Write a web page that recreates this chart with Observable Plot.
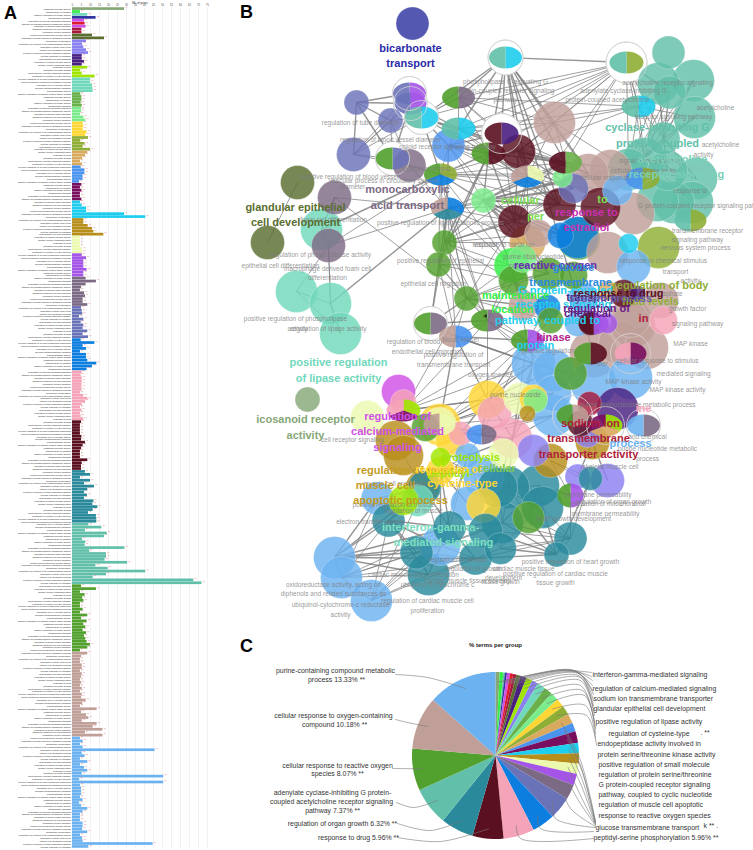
<!DOCTYPE html>
<html><head><meta charset="utf-8">
<script src="https://cdn.jsdelivr.net/npm/d3@7"></script>
<script src="https://cdn.jsdelivr.net/npm/@observablehq/plot@0.6"></script>
<style>html,body{margin:0;padding:0;background:#fff}#page{position:relative;width:753px;height:850px;overflow:hidden;font-family:"Liberation Sans",Arial,sans-serif}
.ltr{position:absolute;font-weight:bold;font-size:18px;line-height:18px;color:#000}</style>
</head><body><div id="page"><div class="ltr" style="left:4px;top:4px">A</div><div class="ltr" style="left:240px;top:3px">B</div><div class="ltr" style="left:240px;top:637px">C</div></div>
<script>
const col={ico:"#86a877",brg:"#33ee44",lt:"#70d8bb",navy:"#2f33a0",mag:"#d050e8",red:"#e01c2c",crim:"#a8183c",dol:"#5a6e30",per:"#8a80f0",dpur:"#4a2080",lime:"#a0e600",grn2:"#6ab04a",lgrn:"#7aeb8a",yel:"#ffd633",oli:"#8fae35",tan:"#d9a95e",blu:"#4a94f0",dmag:"#7a0e5e",cya:"#1fcdee",gold:"#b88e1a",pale:"#ecfab0",pur:"#a455e8",mau:"#7c6a85",sla:"#6a72b8",bblue:"#0c7ee0",pink:"#f5a3b8",mar:"#5a1020",dte:"#2a8a9c",tea:"#62c0aa",grn:"#52a02e",tau:"#c09f98",lbl:"#6db2f0",rose:"#cc2fb0"};

/* ---------- Panel A: percent of genes per term, by group ---------- */
const aIco=[28.9],aBrg=[4.4],aLt1=[8.5],aNavy=[13.1],aMag=[6.7],aRed=[7],aMag2=[7.6],aCrim=[5.2,5.2],aDol=[11.1,17.8];
const aPer=[7.8,5.6,6.3,7.8,8.9],aDpur=[5.4,5.4,6.7,5.4],aLime=[8.5,4.6,5.4,12.6],aLt=[10,10,11.1,11.3,11.5];
const aGrn2=[4.6,5.2,5.2,4.8,5.4],aLgrn=[5,5,4.4,6.3,7.4],aYel=[5.9,6.3,5.9,8.1,7.4],aOli=[8.9,4.6,7,5.9,10];
const aTan=[8.5,7.2,5.6,4.4,5.6],aBlu=[4.8,6.9,6.9,5.9,5.9,3.9],aDmag=[5.2,4.4,5.2,4.4,4.4,5.2],aCya=[4.4,5.4,7.8,7.8,28.9,40.7];
const aGold=[6.3,6.3,8.7,11.1,11.9,17.4],aPale=[4.4,4.4,4.4,4.4,5.6,5.6],aPur=[5.4,7.8,6.3,6.3,6.3,8.1,6.3,6.3];
const aMau=[7.6,13.3,7.6,5,4.4,6.7,7.2,5.9,5.9,8.5],aSla=[5,5.4,5.7,3.9,6.3,4.8,6.3,5.9,8.5,5.9,8.9];
const aBblue=[4.8,12.4,5.9,7.8,4.4,7.8,7.8,8.5,13.5,11.1,8.1];
const aPink=[5.4,4.8,5.4,5.4,5.2,5.2,5.2,4.4,6.3,8.5,7.2,5.4,4.4,5.2,4.4,4.8,6.3];
const aMar=[5,4.4,4.4,4.4,4.4,5.2,5,7.2,5.9,5,4.4,4.4,4.4,8.5,5.4,5,5];
const aDte=[7.2,10,4.4,10,6.7,12.2,8.5,6.7,8.3,6.7,11.9,11.3,14.1,11.5,8.9,13.3,13.5,13.5];
const aTea=[9.1,16.3,7.2,19.3,17.8,5.6,7.4,7,29.1,9.6,18.9,18.9,18.1,30.6,13,19.8,40.7,18.9,11.5,67.4,71.9];
const aGrn=[5,13.3,4.4,7,5.7,6.3,4.4,4.4,5.9,4.4,8.5,5,8.1,6.3,7.4,5.9,7.8,6.7,7.4,8.1,10,8.5,4.4];
const aTau=[8.5,5,4.4,4.4,5.4,5.4,4.4,5.4,5,4.4,5,4.4,5.4,4.4,5.4,5,7.6,5.7,4.4,13.7,5,7.8,9.1,5.4,13.7,11.5,16.9,7.2,16.9];
const aLbl=[4.4,5.9,4.4,5.9,45.9,5.4,7,4.4,8.5,4.4,6.7,8.5,5.4,50.7,4,50.7,4.4,5,5,5,4.4,5.9,4,5,8.5,5.9,4.4,4.4,4.4,5.9,5.9,5.6,8.5,4.4,5.6,5.9,44.8,9.1];
const aOrder=[[aIco,"ico"],[aBrg,"brg"],[aLt1,"lt"],[aNavy,"navy"],[aMag,"mag"],[aRed,"red"],[aMag2,"mag"],[aCrim,"crim"],[aDol,"dol"],[aPer,"per"],[aDpur,"dpur"],[aLime,"lime"],[aLt,"lt"],[aGrn2,"grn2"],[aLgrn,"lgrn"],[aYel,"yel"],[aOli,"oli"],[aTan,"tan"],[aBlu,"blu"],[aDmag,"dmag"],[aCya,"cya"],[aGold,"gold"],[aPale,"pale"],[aPur,"pur"],[aMau,"mau"],[aSla,"sla"],[aBblue,"bblue"],[aPink,"pink"],[aMar,"mar"],[aDte,"dte"],[aTea,"tea"],[aGrn,"grn"],[aTau,"tau"],[aLbl,"lbl"]];
const aTerms=["icosanoid receptor activity","maintenance of location","positive regulation of lipase activity","bicarbonate transport","regulation of calcium-mediated signaling","sodium ion transmembrane transporter activity","regulation of blood vessel diameter","glandular epithelial cell development","regulation of tube diameter","protein serine/threonine kinase activity","regulation of small molecule metabolic process","membrane permeability","regulation of cysteine-type endopeptidase activity","regulation of body fluid levels","muscle cell apoptotic process","G protein-coupled receptor signaling pathway","cellular response to estradiol","monocarboxylic acid transport","regulation of protein kinase activity","peptidyl-serine phosphorylation","response to drug","regulation of organ growth","acetylcholine receptor signaling pathway","response to reactive oxygen species","cellular response to oxygen-containing compound","purine-containing compound metabolic process","regulation of MAP kinase activity","glucose transmembrane transport","oxidoreductase activity","positive regulation of cardiac muscle tissue growth"];
const aXTicks=d3.range(0,76,5);

const aRows=[];aOrder.forEach(([vals,k])=>vals.forEach(v=>aRows.push({i:aRows.length,v,c:col[k],t:aTerms[aRows.length%aTerms.length]})));

const plotA=Plot.plot({width:215,height:850,marginLeft:72,marginRight:8,marginTop:7,marginBottom:2,
 style:{position:"absolute",left:"0",top:"0",background:"transparent",overflow:"visible"},
 x:{domain:[0,75],axis:null},y:{domain:aRows.map(d=>d.i),axis:null,padding:0.08},color:{type:"identity"},
 marks:[
  Plot.ruleX(aXTicks,{stroke:"#e4e4e4",strokeWidth:0.5}),
  Plot.barX(aRows,{x:"v",y:"i",fill:"c"}),
  Plot.text(aRows,{x:"v",y:"i",text:()=>"**",dx:0.8,textAnchor:"start",fontSize:2.6,fill:"#e06a78",fontFamily:"Liberation Sans"}),
  Plot.text(aRows,{x:0,y:"i",text:"t",dx:-1.5,textAnchor:"end",fontSize:2.4,fill:"#222",fontFamily:"Liberation Sans"}),
  Plot.text(aXTicks,{x:d=>d,text:d=>String(d),frameAnchor:"top",dy:-3,fontSize:2.6,fill:"#444",fontFamily:"Liberation Sans"}),
  Plot.text(["Nb. of genes"],{x:[37.5],frameAnchor:"top",dy:-6,fontSize:2.8,fill:"#333",fontFamily:"Liberation Sans"})
 ]});
document.getElementById("page").appendChild(plotA);

/* ---------- Panel B: network, layout positions and node sizes ---------- */
const circleNodes=[
["bi",412,23,16.5,"navy"],
["s1",356,102,12.5,"sla"],["s2",390,120,12.5,"sla"],["s3",353,154,17,"sla"],["lb1",448,145,16.5,"blu"],
["d1",297,182,17,"dol"],["d2",267,242,17,"dol"],["m2",334,197,17,"mau"],["m3",328,245,17,"mau"],["lt1",321,229,21,"lt"],["lt2",296,291,21,"lt"],["lt3",330,303,21,"lt"],["lt4",340,333,21,"lt"],["ic",307,399,12.5,"ico"],
["m1",409,165,16.5,"mau"],
["lg1",483,200,12.5,"lgrn"],["g1",444,242,12.5,"grn"],["g2",438,264,12.5,"grn"],["g3",466,298,12.5,"grn"],
["t1",554,122,21,"tau"],["mr1",518,151,17,"mar"],
["ta1",668,52,16.5,"tea"],["ta2",693,80,21,"tea"],["ta3",658,83,21,"tea"],["ta4",669,92,16.5,"tea"],["ta5",694,117,21,"tea"],["ta6",663,138,16.5,"tea"],["ta7",644,158,21,"tea"],["ta8",696,178,21,"tea"],["ta9",692,202,21,"tea"],["ta10",673,202,21,"tea"],["ta11",657,200,21,"tea"],
["ta12",628,169,21,"tea"],["ta13",667,170,20,"tea"],
["sl4",573,188,15,"sla"],["lb4",617,190,15,"lbl"],["lg2",562,177,10,"lgrn"],["tu2",588,173,20,"tau"],["tu3",610,170,21,"tau"],
["ol1",658,247,21,"oli"],["cy1",628,243,10,"cya"],["tu5",633,213,21,"tau"],["mr4",600,207,20,"mar"],
["mr2",559,204,16.5,"mar"],["mr3",514,221,16.5,"mar"],["tb1",527,242,18,"tan"],["tb2",538,233,14,"tau"],["brg",511,265,17.5,"brg"],["brg2",522,258,14,"lgrn"],
["lb3",633,266,17,"lbl"],["lb2",560,235,13,"bblue"],["bg",578,238,21.5,"grn"],["bb1",577,237,21,"bblue"],["tu4",607,252,21,"tau"],
["g4",548,273,16,"grn"],["g5",513,280,15,"grn"],["g6",573,275,14,"grn"],
["lb5",583,297,15,"lbl"],["tu6",660,300,18,"tau"],["or1",607,290,10,"tan"],["mr5",623,293,14,"mar"],["dp1",637,293,8,"dpur"],["bb2",547,307,13,"bblue"],["tu7",523,305,15,"tau"],["g7",550,320,13,"grn"],["lb6",577,323,13,"lbl"],["mr6",590,323,12,"mar"],["pu1",607,323,10,"pur"],["tu8",630,317,20,"tau"],["pk1",663,320,14,"pink"],
["tm4",633,325,22,"tau"],["tm3",593,353,24,"tau"],["tm1",620,343,22,"tau"],["tm2",646,347,22,"tau"],
["yl1",487,399,19,"yel"],["pl1",519,398,16,"pale"],["yl2",533,398,14,"yel"],["lg3",535,400,12,"lgrn"],["pk2",494,413,17,"pink"],["gd1",527,413,8,"gold"],
["b1",533,363,22,"lbl"],["b2",553,370,21,"lbl"],["b3",593,383,23,"lbl"],["b4",630,377,22,"lbl"],["b5",553,393,18,"lbl"],["b6",553,415,21,"lbl"],
["pr2",533,450,16,"per"],["gd3",550,460,17,"gold"],["ma1",580,423,13,"mar"],["gr",570,373,16.5,"grn"],["cr",589,403,12,"crim"],["pr5",587,433,14,"per"],["gd2",592,442,17,"gold"],["dp",617,408,21,"dpur"],
["dt0",590,478,12,"dte"],["pr3",577,476,12.5,"per"],["pr4",607,480,17,"per"],
["pk3",512,438,20,"pink"],
["mg",398,391,17,"mag"],["pa1",367,417,17,"pale"],["pn",403,402,13,"pink"],["yl3",439,424,21,"yel"],["yw",439,424,17,"pale"],
["gr9",425,427,14,"grn"],["gg1",395,440,20,"gold"],["gg2",403,455,20,"gold"],["yl4",450,440,15,"yel"],["pk4",460,433,12,"pink"],["pl2",503,453,15,"pale"],["lm1",440,457,10,"lime"],["yl5",440,470,14,"yel"],["lb7",467,455,12.5,"lbl"],
["lm2",403,500,15,"lime"],["gg3",422,487,17,"gold"],["lb8",377,498,16.5,"lbl"],["lt5",417,500,16,"lt"],["dt1",424,487,16.5,"dte"],["dt2",388,520,16.5,"dte"],
["a1",334,557,21,"lbl"],["a2",341,577,21,"lbl"],["a3",371,600,21,"lbl"],
["dt3",449,527,16.5,"dte"],["lb9",440,545,20,"lbl"],["dt4",416,552,16.5,"dte"],["dt5",428,574,21,"dte"],["dt6",475,558,16.5,"dte"],
["lb10",483,477,20,"lbl"],["lb11",467,503,17,"lbl"],["yl6",483,505,17,"yel"],["dt7",497,487,20,"dte"],["dt8",538,485,21,"dte"],["dt12",508,487,21,"dte"],["g8",528,517,16,"grn"],["dt9",542,507,21,"dte"],["dt10",485,530,17,"dte"],["dt13",500,548,16,"dte"],["dt11",502,522,21,"dte"],
["dt14",570,538,16.5,"dte"],["dt15",556,554,12.5,"dte"]
];
/* [id, x, y, rx, ry, clockwise group colours, ring radius or 0] */
const pieNodes=[
["p1",505,57,16.5,11,["cya","tea"],17.5],["p2",626,62,17,11,["oli","tea"],20.5],["p3",409,93,16.5,11,["pur","sla"],17],["p4",410,103,16,11,["pur","sla"],17],
["p5",421,117,17,11,["cya","tea"],17],["p6",458,97,16.5,11,["mau","grn"],0],["p7",458,128,17,11,["cya","tea"],0],["p8",392,158,17,11,["sla","grn"],17],
["p9",440,174,16.5,11,["oli","bblue","grn"],0],["p10",447,208,16.5,11,["bblue","dte","tau"],0],["p11",638,106,17,11,["cya","tea"],0],
["p12",501,133,17,11,["dpur","mar"],20],["p13",488,153,17,11,["mar","grn"],0],["p14",565,162,16.5,11,["grn2","mar"],0],["p15",527,176,16.5,11,["pale","bblue","tau"],0],
["p16",642,178,17,11,["oli","blu"],0],["p17",690,220,16,11,["oli","tea"],0],["p18",430,323,16.5,11,["mau","grn"],17],["p19",487,320,16.5,11,["mau","grn"],0],["p20",455,336,16.5,11,["blu","tau"],0],
["p21",527,340,16.5,11,["pur","grn"],0],["p22",590,353,16.5,11,["mar","grn"],0],["p23",630,353,16,11,["dmag","pink"],20],["p24",605,425,17,11,["lime","tan","dmag"],19],["p25",643,425,16.5,11,["mau","lbl"],17],
["p26",572,415,16,11,["tau","grn"],20],["p27",403,410,17,11,["lime","dmag","pink"],0],["p28",439,424,16,11,["pale","tau"],0],["p29",481,434,15,10,["mau","blu"],0],["p30",570,495,13,12,["pur","grn"],0],["p32",593,323,15,11,["pur","mar"],0]
];
/* links: hub -> targets */
const edgeLists=[
["p1","p2 p5 p7 t1 mr1 p12 p14 p15 mr2 tm3 p6 p13 tu2"],
["p2","p6 p7 p5 lb1 mr1 p12 t1 p11 ta3 ta4 ta6 ta7 ta12 mr3 p13 p14"],
["p11","ta3 ta4 ta5 ta6 ta7 ta12 ta13 p7 p6 mr1 ta2 p2 t1"],
["ta6","ta3 ta4 ta5 ta7 ta8 ta12 ta13 ta2"],["ta7","ta4 ta5 ta8 ta12 ta13 ta2 ta3 ta9 p16"],["ta12","ta4 ta5 ta13 ta3 ta2 ta8"],
["s1","p3 p4 s2 s3 p8"],["s3","s2 p3 p4 p8 p5"],["s2","p4 p8 p3 p5 m1"],["p4","p5 p3 p8 p7"],
["d1","d2"],["m2","p10 g3 m3"],["lt1","p9 m3 m2"],["m3","lt2 lt3 p9 p10 lt3"],["lt2","lt3 lt4"],["lt3","lt4 p10"],
["m1","p9 p10 s3 p8"],["lb1","p9 p10 mr2 t1 p13 p7 p15 mr1 g1 lg1 mr3"],
["p5","p7 p6 p13 lb1 mr1 p9"],["p6","p7 p13 p12 mr1 t1"],["p7","p14 mr1 p13 p12 p15 t1 tu2"],
["p13","p14 p15 mr3 lg1 g2 mr1 p12 p9 mr2 lb1 g1 sl4"],["p9","p15 p14 mr2 mr3 lg1 tu2 lb4 mr1 g1 g2 g3 brg p19"],["p10","mr3 lg1 g3 p19 p15 mr2 g1 g2 brg sl4 p18 p20 tb1"],
["lg1","p15 p14 mr2 mr3 brg g1 sl4 tu2 tb1 lb2 g4 bb1 mr4 tu3"],["p15","p14 mr2 mr3 sl4 tb1 brg"],["mr3","mr2 tb1 brg tb2 p14 g1 g3 sl4 tu2 lb2 bb1 g4"],
["mr1","p14 t1 tu2 p15 sl4 mr2 mr3"],["t1","p14 tu2 ta12 p15"],["p12","mr1 p14 p15 mr3 lb1 p13"],["p14","tu2 sl4 mr2 ta12"],
["g1","g2 g3 p19 brg p18 mr3 g5 tb1 p14 mr2 tb2"],["g2","g3 p19 p18 brg g5 p20"],["p18","p19 p20 g3"],["g3","p19 p20 g5 brg g4 tu7 bb2 g7 p21"],["p19","p20 p21 g5 b1 b2 yl1"],["g5","g4 tu7 bb2"],["tb1","g4 lb2 tb2"],
["brg","g4 g5 tb1 p21 tu7 p19"],["p20","p28 p21 b1 b2 yl1"],["p27","p19 p21 g3 yl1 b1"],["p28","p21 b1 yl1 pl1 b5"],["yl1","p21 p29 p27 p28 pk2 pk3 b1 b2 b5"],["p29","b6 b5 pk3 yl1 lb7 p28 p27"],
["p21","b1 b2 bb2 g7 b6 pk3 p29"],["pk3","b1 b2 b6 pl1 lb7 dt7 dt12"],["b1","pl1 b5 b6 gr"],["yl3","yl1 pl1 b6 p29 lb7 yl4"],["pk4","p29 pk3 yl1 b6"],["lm1","lb7 lb10 p29"],["lb7","yl6 lb10 lb9 dt3 yl5 lt5"],["yl5","lb11 dt3 lb9 dt1 lt5"],
["gg3","gg2 dt1 dt2 dt3"],["dt1","dt2 lb8 dt3 lb9"],
["a1","dt2 dt3 dt4 dt5 dt6 lb9 a2 lb8 dt1"],["a2","dt2 dt3 dt4 dt5 dt6 lb9 a3 lb8"],["a3","dt2 dt3 dt4 dt5 dt6 lb9 dt1"],
["dt2","dt3 dt4 lb9 dt5 lt5"],["dt4","dt5 lb9 dt3 dt6"],["dt5","dt6 lb9 dt3"],["dt3","dt6 dt10 dt11 lb9"],["lb9","dt6 dt10 dt11"],
["dt14","dt0 dt9 g8 dt11 dt13 dt10 dt6 dt15 p30"],["dt15","dt0 dt9 g8 dt11 dt13 dt10 dt6"],["dt13","dt11 dt6 dt10 g8"],["dt12","dt8 dt9 dt11 g8 dt7"],["dt8","dt9 dt11 g8 p30"],["dt7","dt11 dt9"],
["gd3","pr3 dt0 p30"],["gd2","pr3 pr4"],["p24","gd2 pr5 dp"]
];

const bigLabels=[
["bicarbonate",410,47.5,"#2a2aa8"],["transport",410,62.5,"#2a2aa8"],
["glandular epithelial",295,207,"#5a6e30"],["cell development",295,222,"#5a6e30"],
["monocarboxylic",407,189,"#7c6a85"],["acid transport",407,205,"#7c6a85"],
["positive regulation",338,362,"#70d8bb"],["of lipase activity",338,378,"#70d8bb"],
["icosanoid receptor",305,419,"#86a877"],["activity",305,435,"#86a877"],
["regulation of",397,416,"#d050e8"],["calcium-mediated",397,431,"#d050e8"],["signaling",397,447,"#d050e8"],
["regulation of muscle",410,470,"#c49a1e"],["muscle cell",385,485,"#c49a1e"],["apoptotic process",400,500,"#c49a1e"],
["proteolysis",470,457,"#a0e600"],["peptidyl-",450,473,"#a0e600"],["regulation of",448,469,"#ffd633"],["cysteine-type",462,483,"#ffd633"],
["interferon-gamma-",430,527,"#7ce0c0"],["mediated signaling",443,542,"#7ce0c0"],["cellular",496,468,"#7ec850"],
["cyclase-inhibiting G",657,127,"#62c0aa"],["protein-coupled",657,143,"#62c0aa"],["acetylcholine",672,159,"#7cd0b8"],["receptor signaling",676,174,"#7cd0b8"],
["cellular",520,200,"#7ce050"],["response to",586,212,"#cc2fb0"],["estradiol",586,227,"#cc2fb0"],["to",602,199,"#7ce050"],["per",535,216,"#7ce050"],
["reactive oxygen",555,265,"#6a2fb0"],["glucose",573,267,"#2a8ae0"],["transmembrane",570,282,"#2a8ae0"],["G protein-coupled",565,290,"#1fcdee"],["maintenance",515,295,"#33ee44"],
["location",512,309,"#33ee44"],["transport",590,297,"#3a2a8a"],["receptor signaling",563,304,"#1fcdee"],["regulation of",596,308,"#6a1a8a"],["chemical",587,313,"#5a2080"],["pathway, coupled to",547,320,"#1fcdee"],
["kinase",553,337,"#b01c8a"],["protein",535,345,"#1fcdee"],["regulation of body",660,285,"#8fae35"],["response to drug",618,293,"#5a1020"],["fluid levels",650,301,"#8fae35"],["system process",610,298,"#6a5aa8"],["in",643,318,"#b01c3a"],
["sodium ion",590,423,"#b01c3a"],["transmembrane",588,438,"#b01c3a"],["process",630,443,"#6db2f0"],["transporter activity",588,454,"#b01c3a"],["ine",643,408,"#f5a3b8"]
];
const smallLabels=[
["phospholipase C-activating G",505,81],["protein-coupled receptor signaling",505,90],["pathway",505,99],
["regulation of tube diameter",360,122],["regulation of blood vessel diameter",390,139],["opioid receptor signaling pathway",447,146],["regulation of lipid",425,168],["vascular process in circulatory system",383,180],
["negative regulation of blood vessel",348,176],["diameter",352,186],["positive regulation of lipid metabolic process",440,222],["foam cell differentiation",333,219],["regulation of phospholipase activity",320,254],
["epithelial cell differentiation",280,265],["macrophage derived foam cell",327,268],["differentiation",327,277],["positive regulation of epithelial",440,260],["epithelial cell migration",433,283],["vascular",485,244],
["positive regulation of phospholipase",295,318],["activity",297,328],["regulation of lipase activity",328,328],["regulation of blood",413,341],["endothelial cell migration",427,351],["positive regulation of",453,354],["transmembrane transport",453,364],["blood vessel",460,339],["oxygen species",490,374],
["cell receptor signaling",352,439],["muscle cell proliferation",397,483],["positive regulation of muscle",393,504],["regulation of muscle",413,510],["electron transfer activity",370,521],
["oxidoreductase activity, acting on",333,584],["diphenols and related substances as",333,593],["ubiquinol-cytochrome-c reductase",340,604],["activity",340,614],["regulation of cardiac muscle cell",427,600],["proliferation",427,610],["ubiquinol to cytochrome c",437,584],["cardiac muscle cell proliferation",413,574],["regulation of cardiac",457,559],["regulation of growth",473,568],["cardiac muscle tissue develop",467,580],
["positive regulation of heart growth",570,561],["cardiac muscle tissue",523,568],["positive regulation of cardiac muscle",555,573],["tissue growth",555,582],["development",503,577],["tissue growth",500,581],
["membrane permeability",597,494],["regulation of mitochondrial",607,503],["regulation of organ growth",613,501],["membrane permeability",605,513],["heart growth development",573,518],
["MAP kinase",690,343],["mediated signaling",683,373],["MAP kinase activity",633,381],["MAP kinase activity",677,389],["cellular response to stimulus",657,360],["purine ribonucleoside metabolic process",637,404],["and chemical",647,436],["purine nucleotide metabolic",657,448],["process",647,458],["skeletal muscle cell",610,466],["growth factor",687,308],["signaling pathway",697,323],
["acetylcholine receptor signaling",667,82],["adenylate cyclase-inhibiting G",623,90],["protein-coupled acetylcholine",607,99],["acetylcholine",715,107],["receptor signaling pathway",673,116],["acetylcholine",720,144],["activity",703,154],["signal transduction by",650,160],["cellular response to an",643,170],["cellular response",605,177],["G protein-coupled receptor signaling pathway",703,205],["response to",690,190],["transmembrane receptor",707,230],["signaling pathway",697,239],["nervous system process",695,247],["response to chemical stimulus",663,260],["transport",675,271],["activity",690,280],["phosphate",667,293],
["response to metal ion",503,244],["purine ribonucleotide",533,256],["cellular response",533,265],["positive regulation",548,350],["purine nucleoside",515,394],["ster",602,363]
];

const idx=new Map([...circleNodes,...pieNodes].map(n=>[n[0],n]));
const edgeRows=[];edgeLists.forEach(([h,ts],k)=>ts.split(" ").forEach(t=>{const a=idx.get(h),b=idx.get(t);if(a&&b)edgeRows.push({x1:a[1],y1:a[2],x2:b[1],y2:b[2],w:(k%3===0?1.4:0.9)})}));
const circles=circleNodes.map(([id,x,y,r,c])=>({x,y,r,c:col[c]}));
const piePts=[];pieNodes.forEach(([id,x,y,rx,ry,cs])=>{cs.forEach((c,i)=>{const a0=i/cs.length*2*Math.PI,a1=(i+1)/cs.length*2*Math.PI,key=id+"-"+i;piePts.push({key,c:col[c],x,y});for(let j=0;j<=14;j++){const a=a0+(a1-a0)*j/14;piePts.push({key,c:col[c],x:x+rx*Math.sin(a),y:y-ry*Math.cos(a)})}})});
const rings=pieNodes.filter(n=>n[6]>0).map(n=>({x:n[1],y:n[2],r:n[6]}));
const toRows=a=>a.map(([t,x,y,c])=>({t,x,y,c}));

const plotB=Plot.plot({width:538,height:630,margin:0,
 style:{position:"absolute",left:"215px",top:"0",background:"transparent",overflow:"visible"},
 x:{domain:[215,753],range:[0,538],axis:null},y:{domain:[0,630],range:[0,630],axis:null},r:{type:"identity"},color:{type:"identity"},
 marks:[
  Plot.link(edgeRows,{x1:"x1",y1:"y1",x2:"x2",y2:"y2",stroke:"#7a7a7a",strokeWidth:"w",strokeOpacity:0.8}),
  Plot.dot(rings,{x:"x",y:"y",r:"r",fill:"#fff",stroke:"#c8c8c8",strokeWidth:0.8}),
  Plot.dot(circles,{x:"x",y:"y",r:"r",fill:"c",fillOpacity:0.82,stroke:"#fff",strokeOpacity:0.5,strokeWidth:0.5}),
  Plot.line(piePts,{x:"x",y:"y",z:"key",fill:"c",fillOpacity:0.9,stroke:"none"}),
  Plot.dot(rings,{x:"x",y:"y",r:"r",fill:"none",stroke:"#d8d8d8",strokeWidth:0.8}),
  Plot.text(smallLabels,{x:d=>d[1],y:d=>d[2],text:d=>d[0],fontSize:6.5,fill:"#7d7d7d",fillOpacity:0.82,fontFamily:"Liberation Sans"}),
  Plot.text(toRows(bigLabels),{x:"x",y:"y",text:"t",fill:"c",fontSize:11,fontWeight:"bold",fontFamily:"Liberation Sans"}),
  Plot.text(["\u27a4"],{x:[485],y:[315],fontSize:6,fill:"#111",rotate:-60})
 ]});
document.getElementById("page").appendChild(plotB);

/* ---------- Panel C: % terms per group ---------- */
const pieGroups=["ico","brg","tea","navy","mag","red","crim","dol","dpur","lime","per","lt","grn2","lgrn","yel","oli","tan","blu","dmag","cya","gold","pale","pur","mau","sla","bblue","pink","mar","dte","tea2","grn","tau","lbl"];
const piePercents=[0.8,0.7,0.3,0.4,0.6,0.6,0.6,0.8,1.2,1.2,1.2,1.6,1.6,1.6,1.7,1.8,1.8,1.7,2.2,2,2,2,2.2,2.8,4.4,4.4,5.96,5.96,6.32,7.37,8.07,10.18,13.33];
const pieCentreX=495,pieCentreY=755,pieRadius=83.5;
const total=d3.sum(piePercents);
let acc=0;const slices=pieGroups.map((g,i)=>{const a0=acc/total*2*Math.PI;acc+=piePercents[i];const a1=acc/total*2*Math.PI;return{g,a0,a1,c:col[g==="tea2"?"tea":g]}});
const slicePts=[];slices.forEach(s=>{slicePts.push({k:s.g,c:s.c,x:pieCentreX,y:pieCentreY});const n=Math.max(2,Math.ceil((s.a1-s.a0)*40));for(let j=0;j<=n;j++){const a=s.a0+(s.a1-s.a0)*j/n;slicePts.push({k:s.g,c:s.c,x:pieCentreX+pieRadius*Math.sin(a),y:pieCentreY-pieRadius*Math.cos(a)})}});
/* leader routes: slice, bend x, bend y, label x, label y */
const leaderRoutes=[
["lbl",427,677,395,674],["tau",407,722,395,719],["grn",420,768,392,768],["tea2",413,807,396,802],["dte",430,830,397,823],["mar",440,841,397,837],
["ico",560,670,591,672],["brg",565,669,591,676],["navy",570,669,592,680],["mag",572,670,592,685],["red",575,671,592,690],["crim",577,672,593,694],["dol",578,673,593,700],["dpur",578,675,593,705],["lime",580,677,593,710],["per",580,680,594,715],["lt",580,685,594,722],["grn2",582,690,595,728],["lgrn",584,695,595,733],["yel",585,705,595,738],["oli",586,715,596,745],
["tan",580,760,595,821],["blu",580,765,595,822],["dmag",582,772,595,822],["cya",582,780,595,823],["gold",582,788,595,824],["pale",580,795,595,824],["pur",578,800,595,825],["mau",570,808,595,826],["sla",555,818,595,827],["bblue",540,828,593,831],["pink",520,838,593,838]
];
const sliceBy=new Map(slices.map(s=>[s.g,s]));
const leaderPts=[];leaderRoutes.forEach(([g,bx,by,ex,ey])=>{const s=sliceBy.get(g),a=(s.a0+s.a1)/2;leaderPts.push({k:g,x:pieCentreX+pieRadius*0.88*Math.sin(a),y:pieCentreY-pieRadius*0.88*Math.cos(a)},{k:g,x:bx,y:by},{k:g,x:ex,y:ey})});
const cLabelsLeft=[
["purine-containing compound metabolic",335,670],["process 13.33% **",336,679],["cellular response to oxygen-containing",333,715],["compound 10.18% **",334,724],
["cellular response to reactive oxygen",337,765],["species 8.07% **",337,773],["adenylate cyclase-inhibiting G protein-",332,792],["coupled acetylcholine receptor signaling",331,801],["pathway 7.37% **",332,810],
["regulation of organ growth 6.32% **",342,823],["response to drug 5.96% **",358,837]
];
const cLabelsRight=[
["interferon-gamma-mediated signaling",592,674.5],["regulation of calcium-mediated signaling",592,688],["sodium ion transmembrane transporter",593,698],["glandular epithelial cell development",593,708.5],["positive regulation of lipase activity",595,721],
["regulation of cysteine-type",608,733.5],[". **",700,732],["endopeptidase activity involved in",597,743],["protein serine/threonine kinase activity",597,754],["positive regulation of small molecule",598,764],["regulation of protein serine/threonine",598,774],["G protein-coupled receptor signaling",598,784.5],["pathway, coupled to cyclic nucleotide",598,794],["regulation of muscle cell apoptotic",598,804],["response to reactive oxygen species",598,815],["glucose transmembrane transport",595,827],["k ** .",703,825],["peptidyl-serine phosphorylation 5.96% **",593,837.5]
];
const plotC=Plot.plot({width:513,height:220,margin:0,
 style:{position:"absolute",left:"240px",top:"630px",background:"transparent",overflow:"visible"},
 x:{domain:[240,753],range:[0,513],axis:null},y:{domain:[630,850],range:[0,220],axis:null},color:{type:"identity"},
 marks:[
  Plot.line(slicePts,{x:"x",y:"y",z:"k",fill:"c",stroke:"none"}),
  Plot.line(leaderPts,{x:"x",y:"y",z:"k",stroke:"#777",strokeWidth:0.6,curve:"catmull-rom"}),
  Plot.text(["% terms per group"],{x:[495],y:[645],fontSize:6,fontWeight:"bold",fill:"#222",fontFamily:"Liberation Sans"}),
  Plot.text(cLabelsLeft,{x:d=>d[1],y:d=>d[2],text:d=>d[0],fontSize:6.95,fill:"#333",fontFamily:"Liberation Sans"}),
  Plot.text(cLabelsRight,{x:d=>d[1],y:d=>d[2],text:d=>d[0],textAnchor:"start",fontSize:6.95,fill:"#333",fontFamily:"Liberation Sans"})
 ]});
document.getElementById("page").appendChild(plotC);
</script></body></html>
